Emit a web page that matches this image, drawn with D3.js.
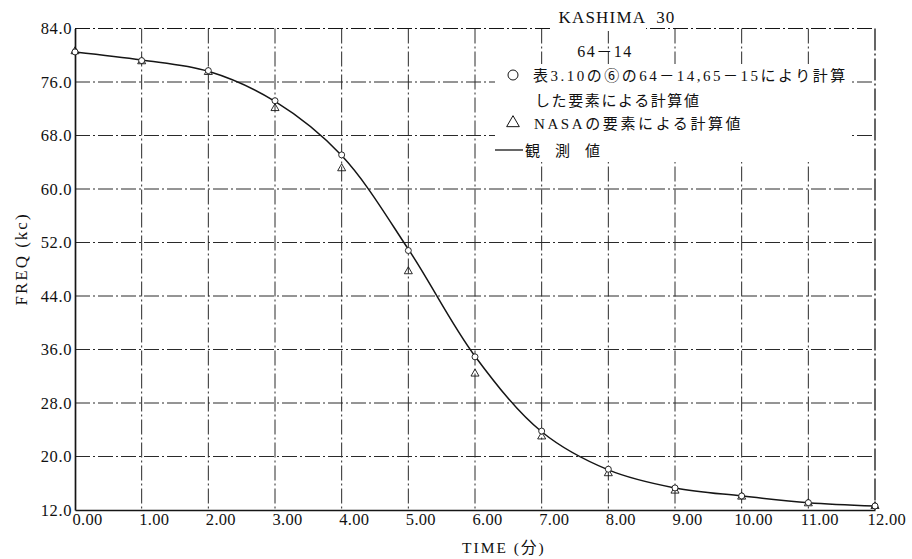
<!DOCTYPE html>
<html>
<head>
<meta charset="utf-8">
<script src="https://cdn.jsdelivr.net/npm/d3@7"></script>
<style>
  body { margin: 0; background: #fff; }
  svg text { font-family: "Liberation Serif", "Noto Sans CJK JP", serif; fill: #111; white-space: pre; }
</style>
</head>
<body>
<svg id="chart" width="912" height="559"></svg>
<script>
// Time after pass start (minutes)
const times = [0, 1, 2, 3, 4, 5, 6, 7, 8, 9, 10, 11, 12];
// Observed Doppler frequency (kc) – solid curve
const observed = [80.5, 79.3, 77.6, 73.1, 65.0, 51.0, 35.0, 23.7, 18.0, 15.3, 14.1, 13.1, 12.6];
// Computed from orbital elements 64-14, 65-15 (circles)
const computedTable = [80.5, 79.2, 77.7, 73.2, 65.1, 50.8, 34.9, 23.8, 18.1, 15.3, 14.1, 13.1, 12.6];
// Computed from NASA elements (triangles)
const computedNasa = [80.5, 79.0, 77.4, 72.0, 63.0, 47.6, 32.3, 22.9, 17.4, 14.8, 13.9, 12.9, 12.5];

const xTicks = [0, 1, 2, 3, 4, 5, 6, 7, 8, 9, 10, 11, 12];
const yTicks = [12, 20, 28, 36, 44, 52, 60, 68, 76, 84];

const xTitle = "TIME (分)";
const yTitle = "FREQ (kc)";
const legendTitle = "KASHIMA  30";
const legendSub = "64－14";
const legendCircle = ["表3.10の⑥の64－14,65－15により計算", "した要素による計算値"];
const legendTriangle = "NASAの要素による計算値";
const legendLine = "観　測　値";

const svg = d3.select("#chart");
const plotLeft = 75, plotRight = 875, plotTop = 28.5, plotBottom = 510;

const x = d3.scaleLinear().domain([0, 12]).range([plotLeft, plotRight]);
const y = d3.scaleLinear().domain([12, 84]).range([plotBottom, plotTop]);

const ink = "#151515";
const gridInk = "#2a2a2a";
const dash = "15,3,2,3";

// Dash-dot grid
const grid = svg.append("g").attr("stroke", gridInk).attr("stroke-width", 1).attr("fill", "none");
grid.selectAll("line.v").data(xTicks.filter(d => d > 0 && d < 12)).join("line")
  .attr("x1", d => x(d)).attr("x2", d => x(d))
  .attr("y1", y(84)).attr("y2", y(12))
  .attr("stroke-dasharray", dash);
grid.selectAll("line.h").data(yTicks.filter(d => d > 12 && d < 84)).join("line")
  .attr("x1", x(0)).attr("x2", x(12))
  .attr("y1", d => y(d)).attr("y2", d => y(d))
  .attr("stroke-dasharray", dash);

// Dash-dot top and right frame
svg.append("line").attr("x1", x(0)).attr("x2", x(12)).attr("y1", y(84)).attr("y2", y(84))
  .attr("stroke", ink).attr("stroke-width", 1.2).attr("stroke-dasharray", dash);
svg.append("line").attr("x1", x(12)).attr("x2", x(12)).attr("y1", y(84)).attr("y2", y(12))
  .attr("stroke", ink).attr("stroke-width", 1.3).attr("stroke-dasharray", "22,3,2,3");

// Legend panel masks the grid behind it
svg.append("rect").attr("x", 495).attr("y", 64).attr("width", 355).attr("height", 98).attr("fill", "#fff");
svg.append("rect").attr("x", 552).attr("y", 8).attr("width", 94).attr("height", 23).attr("fill", "#fff");

// Solid axes
const xAxis = d3.axisBottom(x).tickValues(xTicks).tickFormat(d3.format(".2f")).tickSize(0).tickPadding(0);
const gx = svg.append("g").attr("transform", `translate(0,${plotBottom})`).call(xAxis);
gx.select(".domain").attr("stroke", ink).attr("stroke-width", 1.7);
gx.selectAll("text")
  .attr("text-anchor", "start")
  .attr("y", 15).attr("dy", 0)
  .attr("dx", d => -3 - (d3.format(".2f")(d).length - 4) * 5)
  .style("font-size", "16.5px").style("letter-spacing", "0.3px");

const yAxis = d3.axisLeft(y).tickValues(yTicks).tickFormat(d3.format(".1f")).tickSize(0).tickPadding(3);
const gy = svg.append("g").attr("transform", `translate(${plotLeft},0)`).call(yAxis);
gy.select(".domain").attr("stroke", ink).attr("stroke-width", 1.7);
gy.selectAll("text").style("font-size", "16.5px").style("letter-spacing", "0.6px");

// Observed curve
const line = d3.line().x((d, i) => x(times[i])).y(d => y(d)).curve(d3.curveCatmullRom.alpha(0.5));
svg.append("path").datum(observed).attr("d", line)
  .attr("fill", "none").attr("stroke", ink).attr("stroke-width", 1.5);

// Markers
svg.append("g").selectAll("path").data(computedNasa).join("path")
  .attr("transform", (d, i) => `translate(${x(times[i])},${y(d) - 0.5})`)
  .attr("d", d3.symbol(d3.symbolTriangle, 28))
  .attr("fill", "none").attr("stroke", ink).attr("stroke-width", 0.9);
svg.append("g").selectAll("circle").data(computedTable).join("circle")
  .attr("cx", (d, i) => x(times[i])).attr("cy", d => y(d)).attr("r", 3)
  .attr("fill", "#fff").attr("stroke", ink).attr("stroke-width", 0.9);

// Axis titles
svg.append("text").attr("x", 462).attr("y", 553).text(xTitle)
  .style("font-size", "15.5px").style("letter-spacing", "2px");
svg.append("text").attr("transform", "translate(27,259) rotate(-90)").attr("text-anchor", "middle")
  .text(yTitle).style("font-size", "17px").style("letter-spacing", "2px");

// Legend
const lg = svg.append("g").style("font-size", "15px");
lg.append("text").attr("x", 617).attr("y", 23).attr("text-anchor", "middle")
  .style("font-size", "17px").style("letter-spacing", "1.2px").text(legendTitle);
lg.append("text").attr("x", 605).attr("y", 57).attr("text-anchor", "middle")
  .style("font-size", "16px").style("letter-spacing", "1.5px").text(legendSub);
lg.append("circle").attr("cx", 513).attr("cy", 75).attr("r", 5)
  .attr("fill", "none").attr("stroke", ink).attr("stroke-width", 1);
lg.append("text").attr("x", 533).attr("y", 81).style("letter-spacing", "2.5px").text(legendCircle[0]);
lg.append("text").attr("x", 535).attr("y", 106).style("letter-spacing", "1.6px").text(legendCircle[1]);
lg.append("path").attr("transform", "translate(513,123)")
  .attr("d", d3.symbol(d3.symbolTriangle, 70))
  .attr("fill", "none").attr("stroke", ink).attr("stroke-width", 1);
lg.append("text").attr("x", 534).attr("y", 129).style("letter-spacing", "2.6px").text(legendTriangle);
lg.append("line").attr("x1", 495).attr("x2", 523).attr("y1", 150).attr("y2", 150)
  .attr("stroke", ink).attr("stroke-width", 1.3);
lg.append("text").attr("x", 525).attr("y", 156).text(legendLine);
</script>
</body>
</html>
